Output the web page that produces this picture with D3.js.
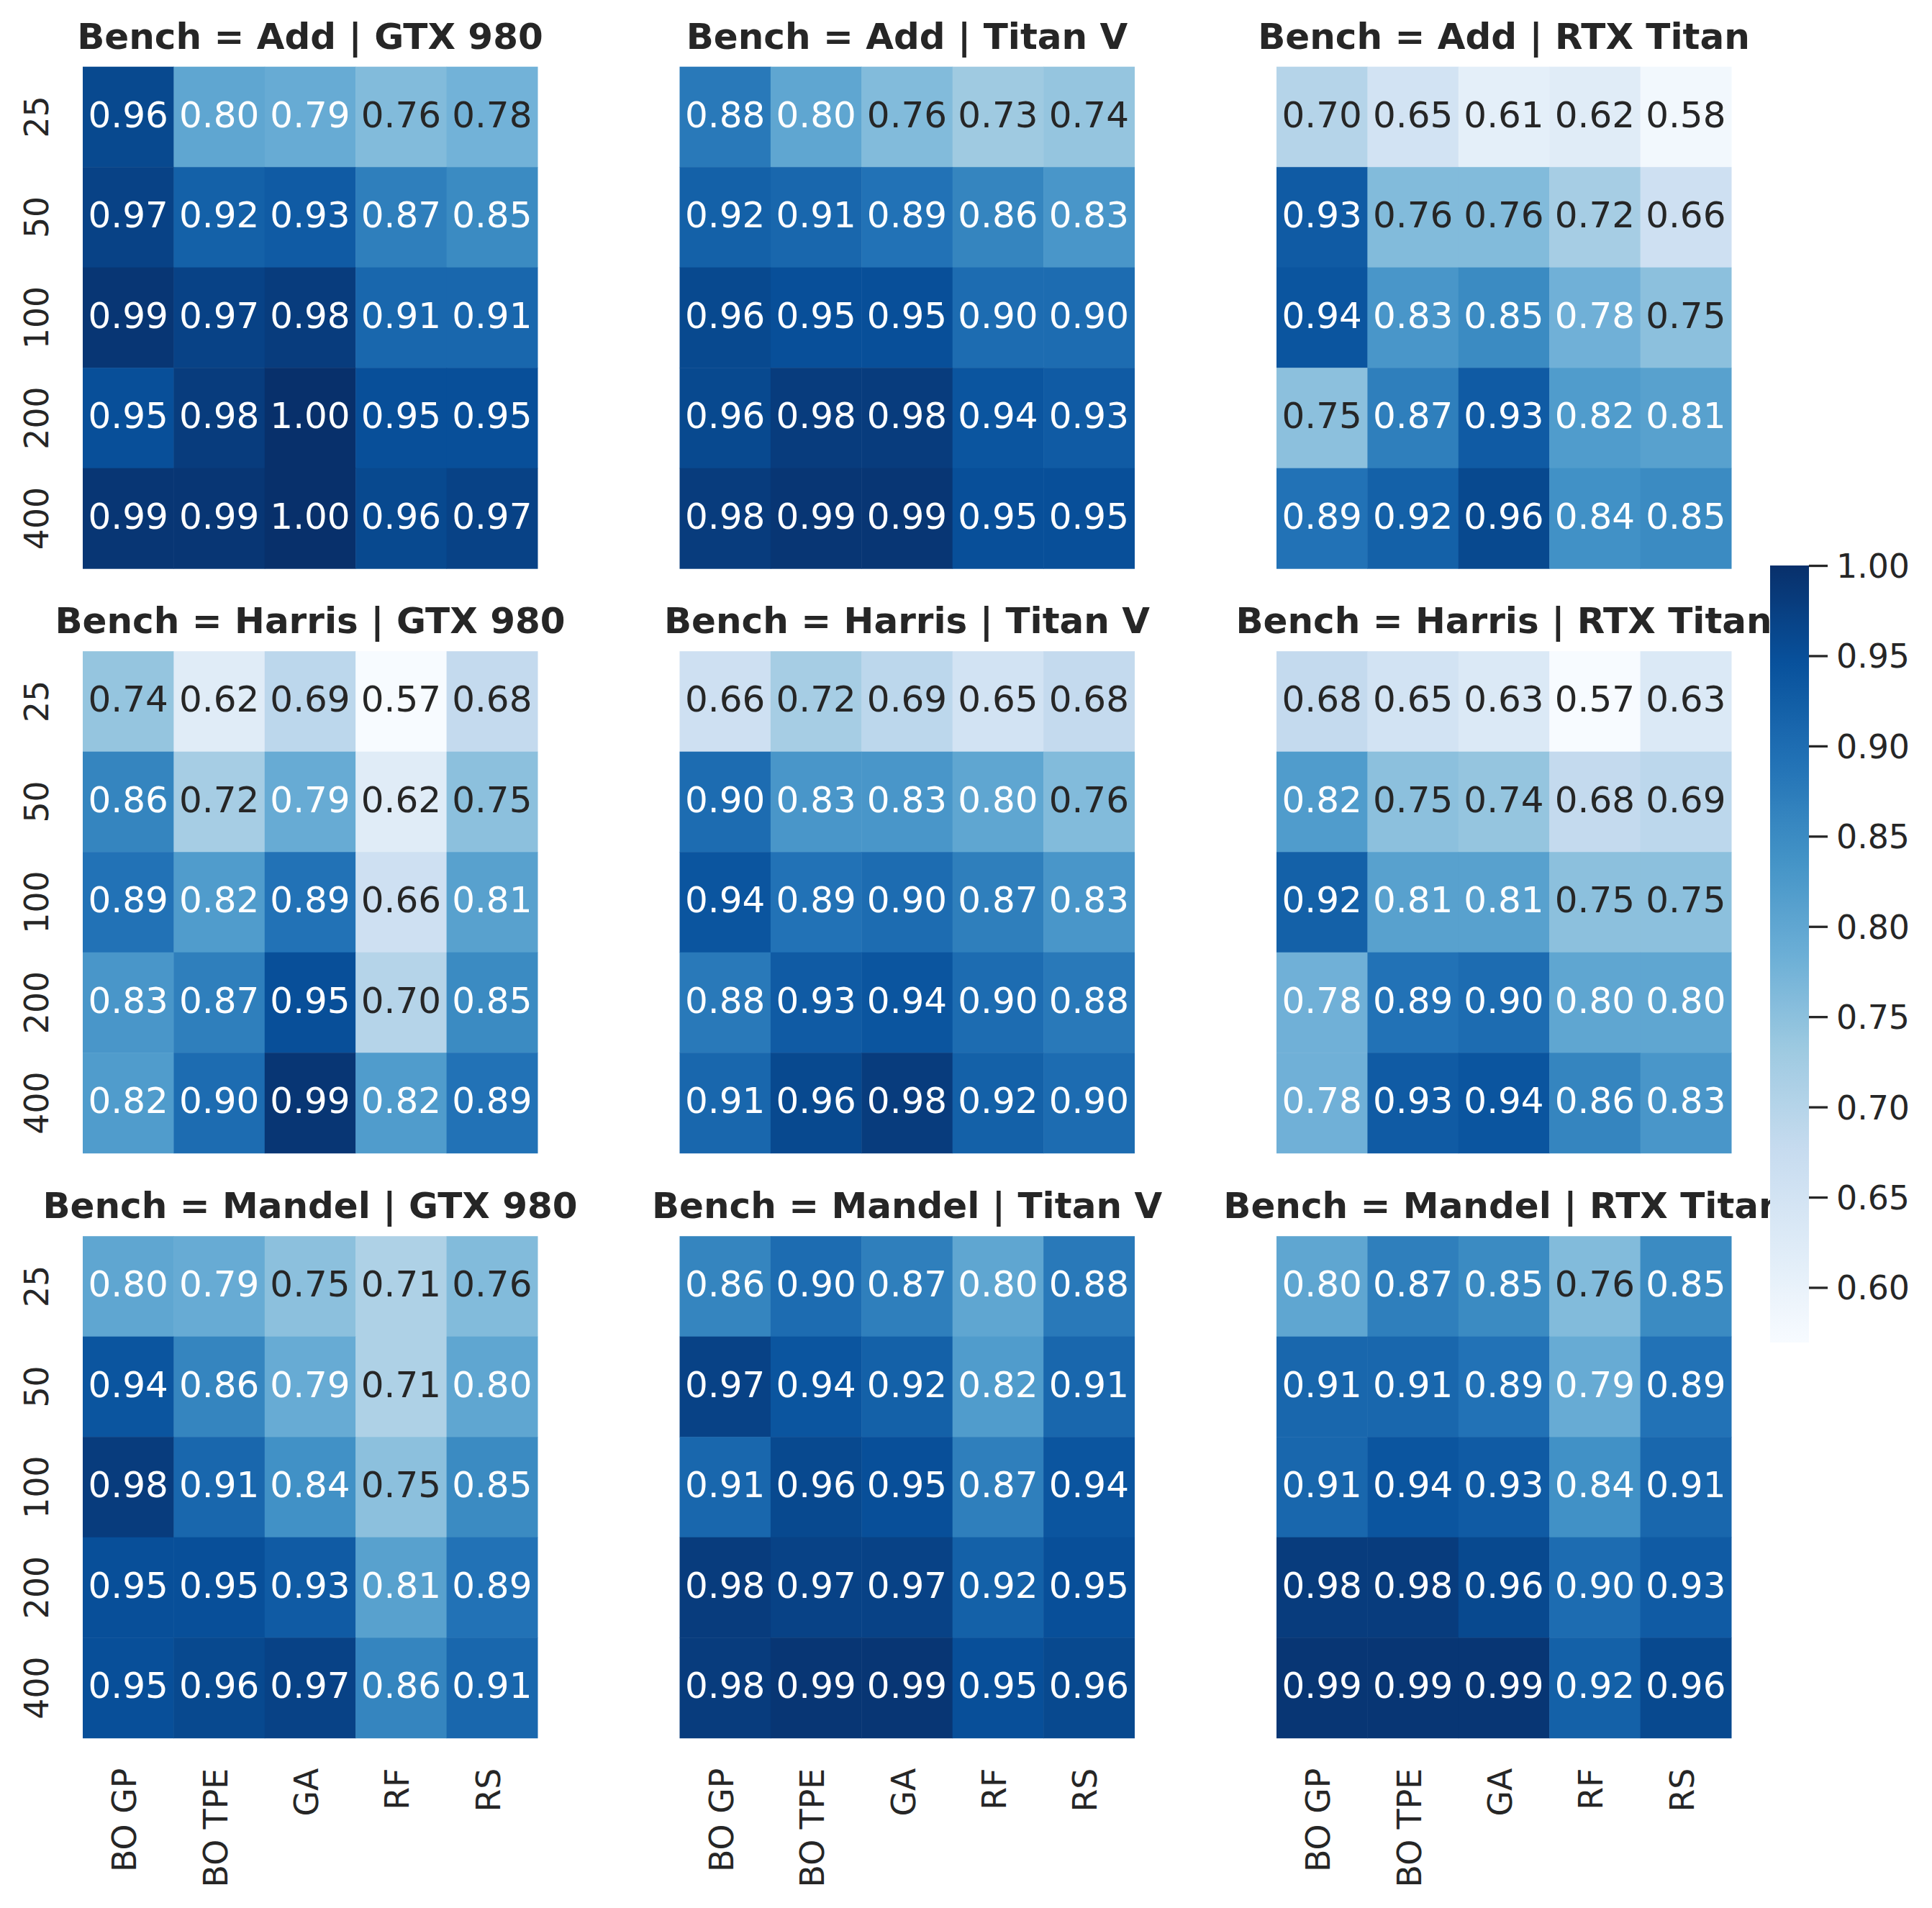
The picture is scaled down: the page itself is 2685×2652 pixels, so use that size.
<!DOCTYPE html>
<html>
<head>
<meta charset="utf-8">
<script src="https://cdn.jsdelivr.net/npm/d3@7"></script>
<style>
  html, body { margin: 0; padding: 0; background: #ffffff; }
  svg { display: block; }
  text { font-family: "DejaVu Sans", sans-serif; }
</style>
</head>
<body>
<svg id="chart" width="2685" height="2652"></svg>
<script>
// ---------------- data ----------------
const benches = ["Add", "Harris", "Mandel"];
const gpus = ["GTX 980", "Titan V", "RTX Titan"];
const methods = ["BO GP", "BO TPE", "GA", "RF", "RS"];
const budgets = ["25", "50", "100", "200", "400"];
const colorbarTicks = [0.60, 0.65, 0.70, 0.75, 0.80, 0.85, 0.90, 0.95, 1.00];
const valueMin = 0.5695;
const valueMax = 1.0;

// rows = budgets, columns = methods
const addGTX980 = [
  [0.96, 0.80, 0.79, 0.76, 0.777],
  [0.97, 0.92, 0.93, 0.87, 0.85],
  [0.99, 0.97, 0.98, 0.91, 0.91],
  [0.95, 0.98, 1.00, 0.95, 0.95],
  [0.99, 0.99, 1.00, 0.96, 0.97]
];
const addTitanV = [
  [0.88, 0.80, 0.76, 0.73, 0.74],
  [0.92, 0.91, 0.89, 0.86, 0.83],
  [0.96, 0.95, 0.95, 0.90, 0.90],
  [0.96, 0.98, 0.98, 0.94, 0.93],
  [0.98, 0.99, 0.99, 0.95, 0.95]
];
const addRTXTitan = [
  [0.70, 0.65, 0.61, 0.62, 0.58],
  [0.93, 0.76, 0.76, 0.72, 0.66],
  [0.94, 0.83, 0.85, 0.78, 0.75],
  [0.75, 0.87, 0.93, 0.82, 0.81],
  [0.89, 0.92, 0.96, 0.84, 0.85]
];
const harrisGTX980 = [
  [0.74, 0.62, 0.69, 0.57, 0.68],
  [0.86, 0.72, 0.79, 0.62, 0.75],
  [0.89, 0.82, 0.89, 0.66, 0.81],
  [0.83, 0.87, 0.95, 0.70, 0.85],
  [0.82, 0.90, 0.99, 0.82, 0.89]
];
const harrisTitanV = [
  [0.66, 0.72, 0.69, 0.65, 0.68],
  [0.90, 0.83, 0.83, 0.80, 0.76],
  [0.94, 0.89, 0.90, 0.87, 0.83],
  [0.88, 0.93, 0.94, 0.90, 0.88],
  [0.91, 0.96, 0.98, 0.92, 0.90]
];
const harrisRTXTitan = [
  [0.68, 0.65, 0.63, 0.57, 0.63],
  [0.82, 0.75, 0.74, 0.68, 0.69],
  [0.92, 0.81, 0.81, 0.75, 0.75],
  [0.78, 0.89, 0.90, 0.80, 0.80],
  [0.78, 0.93, 0.94, 0.86, 0.83]
];
const mandelGTX980 = [
  [0.80, 0.79, 0.75, 0.71, 0.76],
  [0.94, 0.86, 0.79, 0.71, 0.80],
  [0.98, 0.91, 0.84, 0.75, 0.85],
  [0.95, 0.95, 0.93, 0.81, 0.89],
  [0.95, 0.96, 0.97, 0.86, 0.91]
];
const mandelTitanV = [
  [0.86, 0.90, 0.87, 0.80, 0.88],
  [0.97, 0.94, 0.92, 0.82, 0.91],
  [0.91, 0.96, 0.95, 0.87, 0.94],
  [0.98, 0.97, 0.97, 0.92, 0.95],
  [0.98, 0.99, 0.99, 0.95, 0.96]
];
const mandelRTXTitan = [
  [0.80, 0.87, 0.85, 0.76, 0.85],
  [0.91, 0.91, 0.89, 0.79, 0.89],
  [0.91, 0.94, 0.93, 0.84, 0.91],
  [0.98, 0.98, 0.96, 0.90, 0.93],
  [0.99, 0.99, 0.99, 0.92, 0.96]
];

const panelData = [
  [addGTX980, addTitanV, addRTXTitan],
  [harrisGTX980, harrisTitanV, harrisRTXTitan],
  [mandelGTX980, mandelTitanV, mandelRTXTitan]
];

// ---------------- layout / style ----------------
const DARK = "#262626";
const panelW = 632, panelH = 697.5;
const colX = [115, 944.5, 1774];
const rowY = [92.7, 905.2, 1718.2];
const annotSize = 50, tickSize = 45.8, titleSize = 50;

const bluesStops = ["#f7fbff", "#deebf7", "#c6dbef", "#9ecae1", "#6baed6",
                    "#4292c6", "#2171b5", "#08519c", "#08306b"];
const color = d3.scaleLinear()
  .domain(bluesStops.map((_, i) => valueMin + (valueMax - valueMin) * i / (bluesStops.length - 1)))
  .range(bluesStops)
  .interpolate(d3.interpolateRgb)
  .clamp(true);

function luminance(c) {
  const rgb = d3.rgb(c);
  const lin = v => { v /= 255; return v <= 0.03928 ? v / 12.92 : Math.pow((v + 0.055) / 1.055, 2.4); };
  return 0.2126 * lin(rgb.r) + 0.7152 * lin(rgb.g) + 0.0722 * lin(rgb.b);
}
const fmt = d3.format(".2f");

const svg = d3.select("#chart");

benches.forEach((bench, r) => {
  gpus.forEach((gpu, c) => {
    const data = panelData[r][c];
    const x = d3.scaleBand().domain(methods).range([colX[c], colX[c] + panelW]);
    const y = d3.scaleBand().domain(budgets).range([rowY[r], rowY[r] + panelH]);
    const g = svg.append("g");

    const cells = [];
    budgets.forEach((b, i) => methods.forEach((m, j) => cells.push({ b, m, v: data[i][j] })));

    g.selectAll("rect.cell").data(cells).join("rect")
      .attr("class", "cell")
      .attr("x", d => x(d.m))
      .attr("y", d => y(d.b))
      .attr("width", x.bandwidth() + 0.5)
      .attr("height", y.bandwidth() + 0.5)
      .attr("fill", d => color(d.v));

    g.selectAll("text.annot").data(cells).join("text")
      .attr("class", "annot")
      .attr("x", d => x(d.m) + x.bandwidth() / 2)
      .attr("y", d => y(d.b) + y.bandwidth() / 2 + 14.3)
      .attr("text-anchor", "middle")
      .attr("font-size", annotSize)
      .attr("fill", d => luminance(color(d.v)) > 0.40 ? DARK : "#ffffff")
      .text(d => fmt(d.v));

    // title
    g.append("text")
      .attr("x", colX[c] + panelW / 2)
      .attr("y", rowY[r] - 25)
      .attr("text-anchor", "middle")
      .attr("font-size", titleSize)
      .attr("font-weight", "bold")
      .attr("fill", DARK)
      .text(`Bench = ${bench} | ${gpu}`);

    // y axis (left column only)
    if (c === 0) {
      const ya = g.append("g")
        .attr("transform", `translate(${colX[c]},0)`)
        .call(d3.axisLeft(y).tickSize(0));
      ya.select(".domain").remove();
      ya.selectAll("text")
        .attr("x", null).attr("dy", null)
        .attr("transform", "translate(-48,0) rotate(-90)")
        .attr("text-anchor", "middle")
        .attr("font-size", tickSize)
        .attr("font-family", "DejaVu Sans")
        .attr("fill", DARK);
    }
    // x axis (bottom row only)
    if (r === benches.length - 1) {
      const xa = g.append("g")
        .attr("transform", `translate(0,${rowY[r] + panelH})`)
        .call(d3.axisBottom(x).tickSize(0));
      xa.select(".domain").remove();
      xa.selectAll("text")
        .attr("y", null).attr("dy", null)
        .attr("transform", "translate(11,42) rotate(-90)")
        .attr("text-anchor", "end")
        .attr("font-size", tickSize)
        .attr("font-family", "DejaVu Sans")
        .attr("fill", DARK);
    }
  });
});

// ---------------- colorbar ----------------
const cbX = 2460, cbW = 54, cbTop = 786, cbBottom = 1866;
const cbScale = d3.scaleLinear().domain([valueMin, valueMax]).range([cbBottom, cbTop]);

svg.append("rect")
  .attr("x", cbX).attr("y", cbTop)
  .attr("width", cbW).attr("height", cbBottom - cbTop)
  .attr("fill", "#ffffff");

const defs = svg.append("defs");
const grad = defs.append("linearGradient")
  .attr("id", "cbgrad")
  .attr("x1", 0).attr("y1", 1).attr("x2", 0).attr("y2", 0);
d3.range(0, 1.0001, 1 / 64).forEach(t => {
  grad.append("stop")
    .attr("offset", t)
    .attr("stop-color", color(valueMin + t * (valueMax - valueMin)));
});
svg.append("rect")
  .attr("x", cbX).attr("y", cbTop)
  .attr("width", cbW).attr("height", cbBottom - cbTop)
  .attr("fill", "url(#cbgrad)");

const cbAxis = svg.append("g")
  .attr("transform", `translate(${cbX + cbW},0)`)
  .call(d3.axisRight(cbScale).tickValues(colorbarTicks).tickFormat(fmt).tickSize(26).tickPadding(12));
cbAxis.select(".domain").remove();
cbAxis.selectAll(".tick line").attr("stroke", DARK).attr("stroke-width", 3.3);
cbAxis.selectAll(".tick text")
  .attr("dy", "0.36em")
  .attr("font-size", tickSize)
  .attr("font-family", "DejaVu Sans")
  .attr("fill", DARK);
</script>
</body>
</html>
